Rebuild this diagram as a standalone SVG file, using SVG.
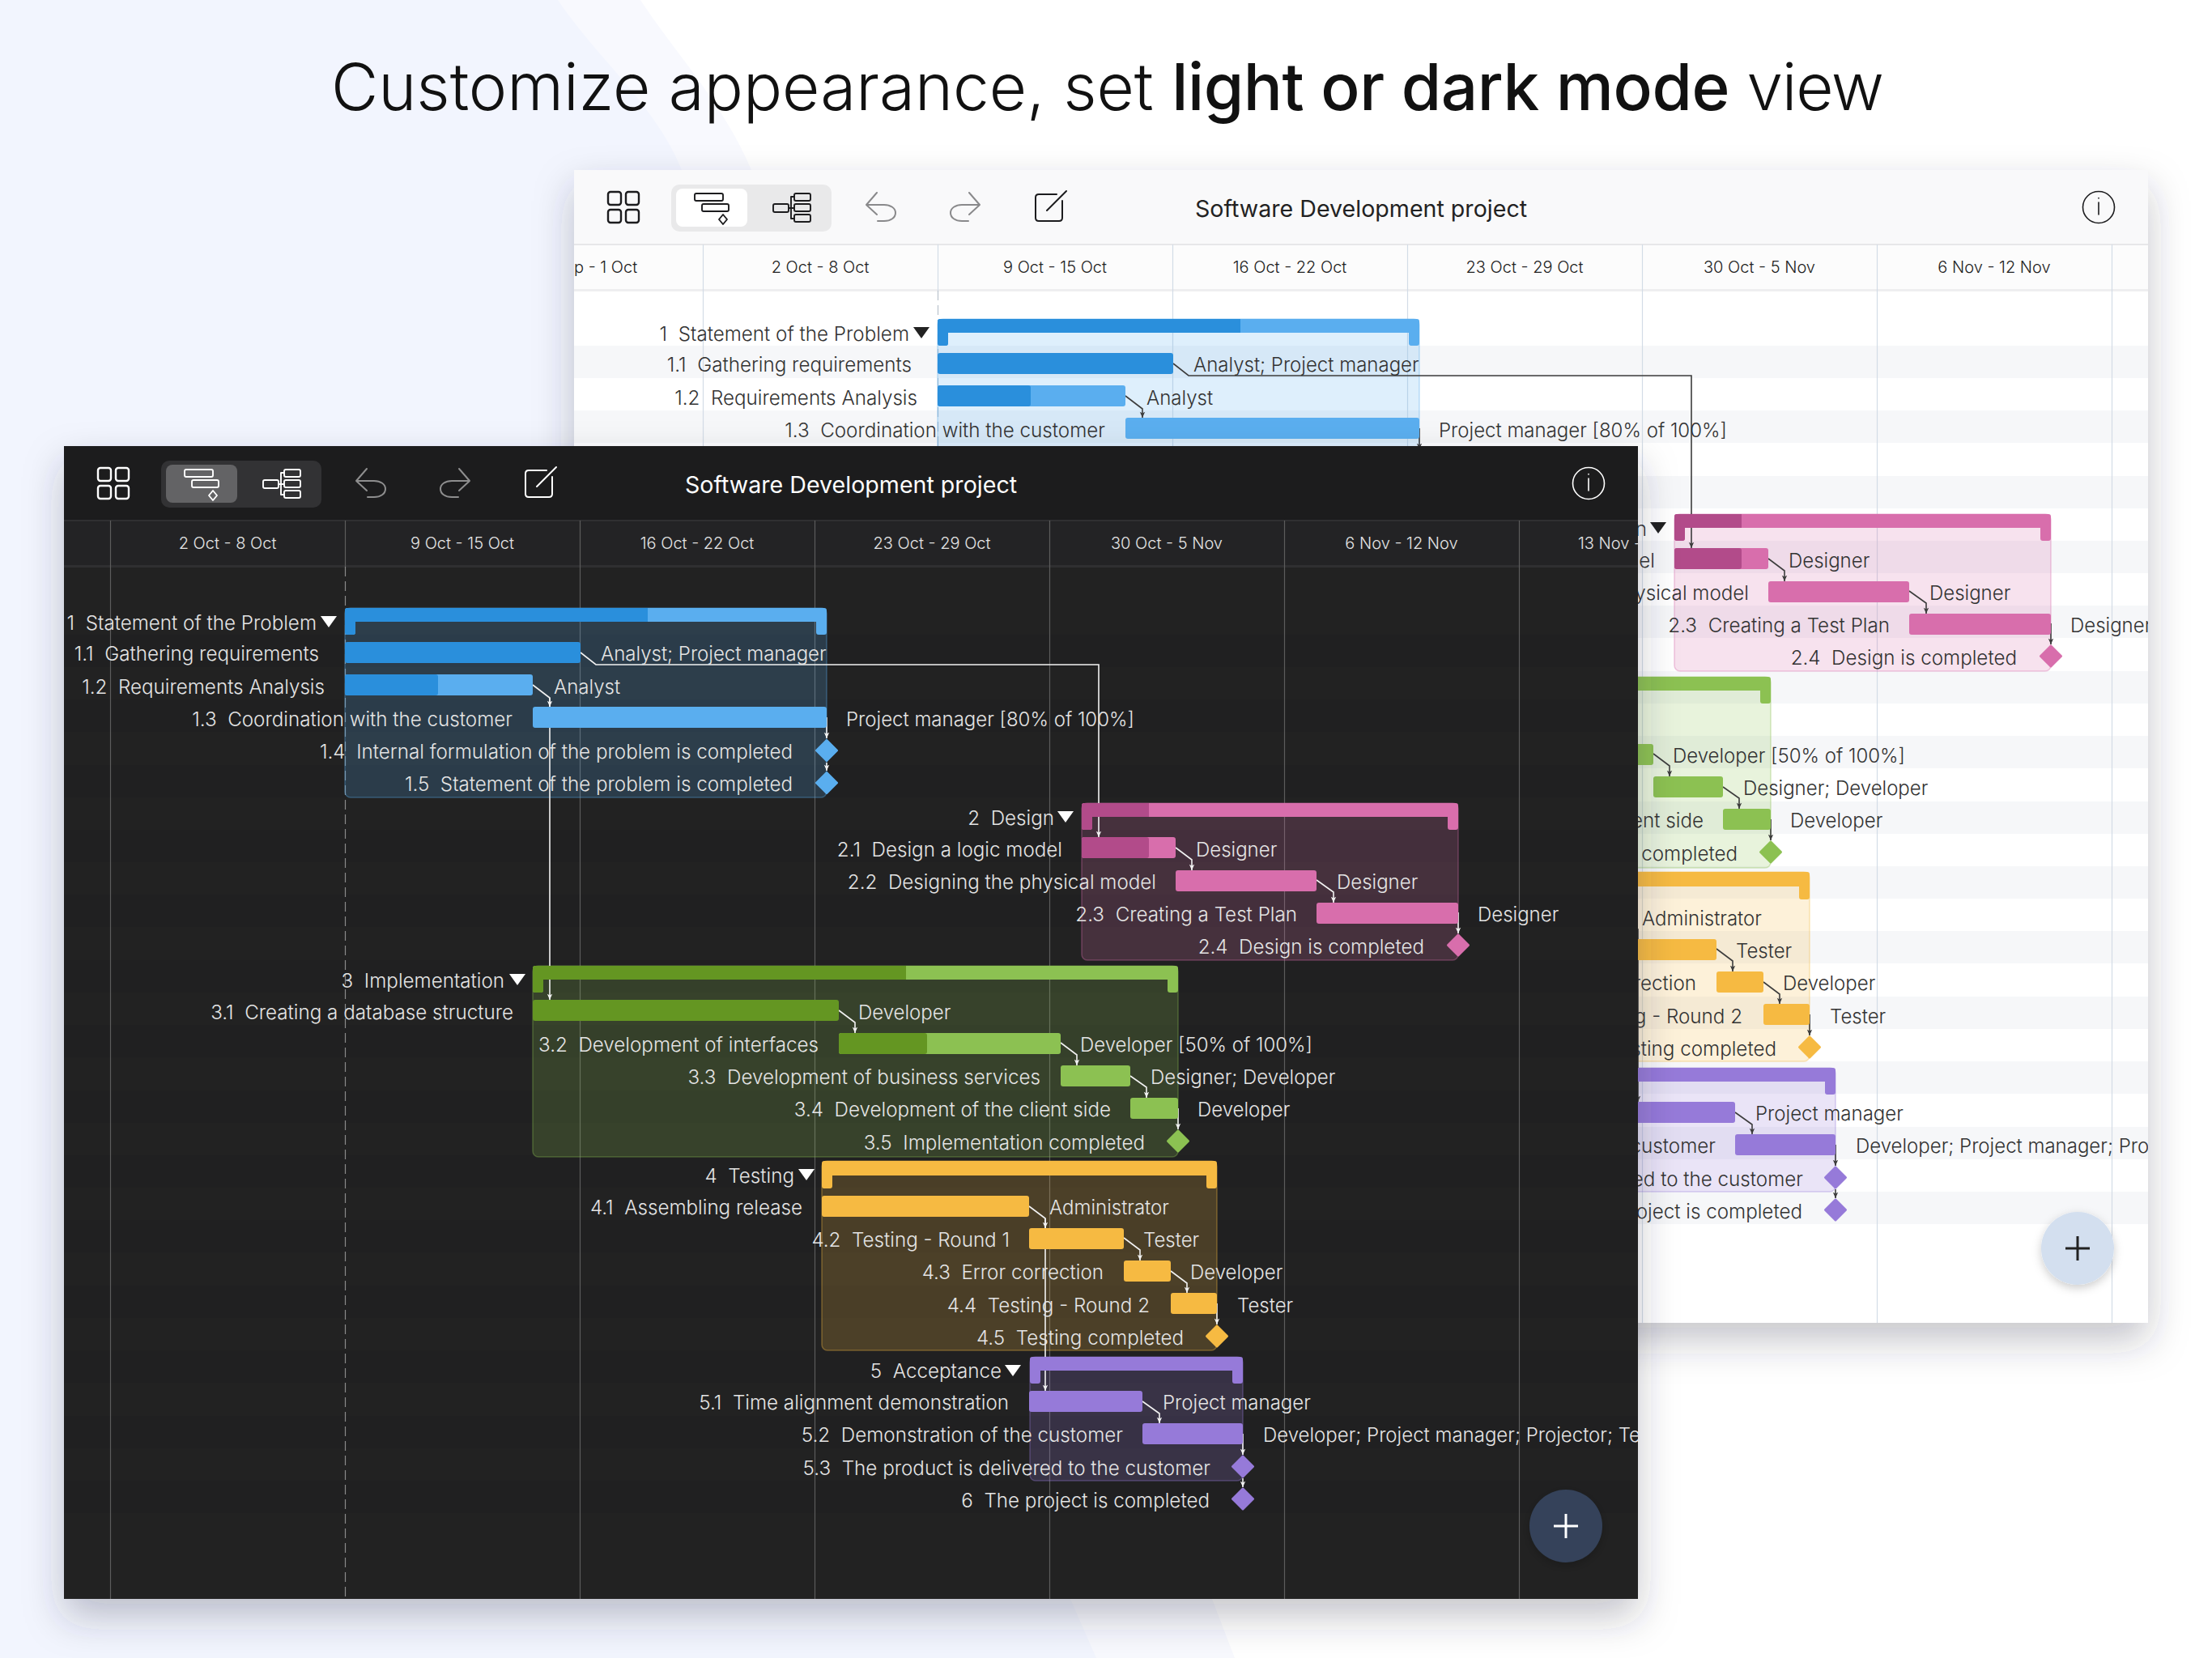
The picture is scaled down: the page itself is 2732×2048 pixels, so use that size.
<svg xmlns="http://www.w3.org/2000/svg" width="2732" height="2048" viewBox="0 0 2732 2048">
<style>
text{font-family:Inter,"Liberation Sans",sans-serif;font-weight:300;white-space:pre}
.title{font-size:80px;fill:#111}
.title .b{font-weight:450;letter-spacing:-.4px}
.title .v{letter-spacing:-1.2px}
.app{font-size:28.6px;font-weight:400}
.wk{font-size:20px;text-anchor:middle}
.r{font-size:24.2px;text-anchor:end}
.l{font-size:24px}
.lt text{fill:#333}
.lt .app,.lt .wk{fill:#222}
.dk text{fill:#e4e4e4}
.dk .app{fill:#fff}
.c{fill:none;stroke-width:1.6}
.lt .c{stroke:#3c3c3c}
.dk .c{stroke:#f2f2f2}
.lt .a{marker-end:url(#al)}
.dk .a{marker-end:url(#ad)}
.lt .g{stroke:#d3dce6;stroke-width:1.2}
.dk .g{stroke:#5c5c5c;stroke-width:1.2}
.today{stroke-dasharray:12 6;stroke-width:1.4}
.lt .today{stroke:#b9c2cc}
.dk .today{stroke:#8a8a8a}
.ic{fill:none;stroke:currentColor;stroke-width:2.4;stroke-linejoin:round;stroke-linecap:round}
.ic2{stroke-width:1.9}
.sh{stroke-width:1.5;fill-opacity:.2;stroke-opacity:.35}
.bB{fill:#5aaeef}.dB{fill:#2a8fdc}.sB{fill:#5aaeef;stroke:#5aaeef}
.bP{fill:#d86eac}.dP{fill:#b24b8a}.sP{fill:#d86eac;stroke:#d86eac}
.bG{fill:#8cc152}.dG{fill:#649622}.sG{fill:#8cc152;stroke:#8cc152}
.bO{fill:#f6ba42}.sO{fill:#f6ba42;stroke:#f6ba42}
.bV{fill:#967ad9}.sV{fill:#967ad9;stroke:#967ad9}
</style>
<defs>
<filter id="shadow" x="-8%" y="-8%" width="116%" height="116%"><feDropShadow dx="0" dy="22" stdDeviation="24" flood-color="#2a3040" flood-opacity=".28"/></filter>
<filter id="fab" x="-40%" y="-40%" width="180%" height="180%"><feDropShadow dx="0" dy="4" stdDeviation="6" flood-color="#000" flood-opacity=".2"/></filter>
<clipPath id="clipL"><rect x="709" y="210" width="1944" height="1424"/></clipPath>
<clipPath id="clipD"><rect x="79" y="551" width="1944" height="1424"/></clipPath>
<marker id="al" viewBox="0 0 10 10" refX="9" refY="5" markerWidth="9" markerHeight="9" markerUnits="userSpaceOnUse" orient="auto"><path d="M1 1.5 9 5 1 8.5 3 5Z" fill="#3c3c3c"/></marker>
<marker id="ad" viewBox="0 0 10 10" refX="9" refY="5" markerWidth="9" markerHeight="9" markerUnits="userSpaceOnUse" orient="auto"><path d="M1 1.5 9 5 1 8.5 3 5Z" fill="#f2f2f2"/></marker>
<g id="icons">
<g class="ic"><rect x="751" y="237" width="16" height="16" rx="3"/><rect x="773" y="237" width="16" height="16" rx="3"/><rect x="751" y="259" width="16" height="16" rx="3"/><rect x="773" y="259" width="16" height="16" rx="3"/></g>
<g class="ic ic2"><rect x="858" y="239" width="35" height="9" rx="2"/><rect x="867" y="252" width="33" height="9" rx="2"/><path d="M893 265 898 271 893 277 888 271Z"/><rect x="955" y="252" width="19" height="10" rx="2"/><rect x="981" y="239" width="20" height="9" rx="2"/><rect x="981" y="252" width="20" height="9" rx="2"/><rect x="981" y="265" width="20" height="9" rx="2"/><path d="M974 257H981M977 243V270M977 243H981M977 270H981"/></g>
<g class="ic" opacity=".5" style="stroke-width:2"><path d="M1083 238 1070 253 1083 265M1070 253H1092C1100 253 1106 257 1106 263 1106 269 1100 273 1092 273H1084"/><path d="M1197 238 1210 253 1197 265M1210 253H1188C1180 253 1174 257 1174 263 1174 269 1180 273 1188 273H1196"/></g>
<g class="ic" style="stroke-width:2"><path d="M1305 240H1283Q1279 240 1279 244V269Q1279 273 1283 273H1308Q1312 273 1312 269V248M1317 236 1293 260"/></g>
<g class="ic" style="stroke-width:1.6"><circle cx="2592" cy="256" r="19.5"/><path d="M2592 250V265M2592 244.500V245"/></g>
</g>
</defs>

<rect width="2732" height="2048" fill="#fff"/>
<path d="M0 0H791C830 60 895 130 928 210L1497 1975 1525 2048H0Z" fill="#f8f9fe"/>
<path d="M0 0H689C740 75 810 130 842 210L1322 1975 1354 2048H0Z" fill="#f2f5fe"/>

<text class="title" x="409" y="136">Customize appearance, set <tspan class="b">light or dark mode</tspan><tspan class="v"> view</tspan></text>

<g id="light-window" class="lt">
<rect x="709" y="210" width="1944" height="1424" fill="#fff" filter="url(#shadow)"/>
<g clip-path="url(#clipL)">
<rect x="709" y="210" width="1944" height="92" fill="#f9f9fa"/>
<rect x="709" y="302" width="1944" height="57" fill="#fcfcfc"/>
<rect x="709" y="301" width="1944" height="2" fill="#e7e7e9"/>
<rect x="709" y="357" width="1944" height="3" fill="#eeeef0"/>
<g id="light-stripes" fill="#f6f7f9">
<rect x="709" y="427" width="1944" height="40"/><rect x="709" y="507" width="1944" height="40"/><rect x="709" y="588" width="1944" height="40"/><rect x="709" y="668" width="1944" height="40"/><rect x="709" y="748" width="1944" height="40"/><rect x="709" y="829" width="1944" height="40"/><rect x="709" y="909" width="1944" height="40"/><rect x="709" y="990" width="1944" height="40"/><rect x="709" y="1070" width="1944" height="40"/><rect x="709" y="1150" width="1944" height="40"/><rect x="709" y="1231" width="1944" height="40"/><rect x="709" y="1311" width="1944" height="40"/><rect x="709" y="1392" width="1944" height="40"/><rect x="709" y="1472" width="1944" height="40"/>
</g>
<g id="light-grid">
<path class="g" d="M868.500 302V1634M1448.500 302V1634M1738.500 302V1634M2028.500 302V1634M2318.500 302V1634M2608.500 302V1634M1158.500 302V359"/>
<path class="g today" d="M1158.500 359V1634"/>
</g>
<g id="light-header">
<text class="wk" x="709" y="337" style="text-anchor:start">p - 1 Oct</text>
<text class="wk" x="1013" y="337">2 Oct - 8 Oct</text>
<text class="wk" x="1303" y="337">9 Oct - 15 Oct</text>
<text class="wk" x="1593" y="337">16 Oct - 22 Oct</text>
<text class="wk" x="1883" y="337">23 Oct - 29 Oct</text>
<text class="wk" x="2173" y="337">30 Oct - 5 Nov</text>
<text class="wk" x="2463" y="337">6 Nov - 12 Nov</text>
</g>
<g id="light-toolbar">
<rect x="829" y="228" width="198" height="58" rx="10" fill="#e9e9ea"/>
<rect x="835" y="233" width="88" height="47" rx="8" fill="#fff"/>
<use href="#icons" style="color:#1c1c1e"/>
<text class="app" x="1476" y="268">Software Development project</text>
</g>
<g transform="translate(732,-357)">
<g id="light-summaries">
<rect class="sh sB" x="426" y="751" width="595" height="234" rx="7"/>
<rect class="sh sP" x="1336" y="992" width="465" height="194" rx="7"/>
<rect class="sh sG" x="658" y="1193" width="797" height="236" rx="7"/>
<rect class="sh sO" x="1015" y="1434" width="488" height="234" rx="7"/>
<rect class="sh sV" x="1272" y="1676" width="263" height="153" rx="7"/>
</g>
<g id="light-connectors">
<path class="c a" d="M717 806 736 821H1357V1034"/>
<path class="c a" d="M658 846 679 862V873"/>
<path class="c a" d="M1021 886V912"/>
<path class="c a" d="M1452 1047 1472 1062V1075"/>
<path class="c a" d="M1626 1087 1647 1102V1115"/>
<path class="c a" d="M1801 1127V1153"/>
<path class="c a" d="M1310 1288 1330 1303V1316"/>
<path class="c a" d="M1396 1329 1416 1343V1356"/>
<path class="c a" d="M1455 1369V1395"/>
<path class="c a" d="M1271 1490 1291 1505V1718"/>
<path class="c a" d="M1388 1529 1408 1544V1557"/>
<path class="c a" d="M1446 1570 1466 1585V1597"/>
<path class="c a" d="M1503 1610V1636"/>
<path class="c a" d="M1411 1731 1432 1746V1758"/>
<path class="c a" d="M1535 1771V1797"/>
<path class="c a" d="M1535 1826V1837"/>
</g>
<g id="light-n1"><path class="bB" d="M429 751H1018Q1021 751 1021 754V781Q1021 784 1018 784H1011Q1008 784 1008 781V768H439V781Q439 784 436 784H429Q426 784 426 781V754Q426 751 429 751Z"/><path class="dB" d="M429 751H800V768H439V781Q439 784 436 784H429Q426 784 426 781V754Q426 751 429 751Z"/><path d="M396 761H416L406 775Z" fill="#222"/><text class="r" x="391" y="777.500">1  Statement of the Problem</text></g>
<g id="light-n1-1"><rect class="dB" x="426" y="793" width="291" height="26" rx="3"/><text class="r" x="394" y="816">1.1  Gathering requirements</text><text class="l" x="742" y="816">Analyst; Project manager</text></g>
<g id="light-n1-2"><rect class="bB" x="426" y="833" width="232" height="26" rx="3"/><rect class="dB" x="426" y="833" width="115" height="26" rx="3"/><text class="r" x="401" y="857">1.2  Requirements Analysis</text><text class="l" x="684" y="857">Analyst</text></g>
<g id="light-n1-3"><rect class="bB" x="658" y="873" width="363" height="26" rx="3"/><text class="r" x="633" y="897">1.3  Coordination with the customer</text><text class="l" x="1045" y="897">Project manager [80% of 100%]</text></g>
<g id="light-n2"><path class="bP" d="M1339 992H1798Q1801 992 1801 995V1022Q1801 1025 1798 1025H1791Q1788 1025 1788 1022V1009H1349V1022Q1349 1025 1346 1025H1339Q1336 1025 1336 1022V995Q1336 992 1339 992Z"/><path class="dP" d="M1339 992H1419V1009H1349V1022Q1349 1025 1346 1025H1339Q1336 1025 1336 1022V995Q1336 992 1339 992Z"/><path d="M1306 1002H1326L1316 1016Z" fill="#222"/><text class="r" x="1302" y="1018.500">2  Design</text></g>
<g id="light-n2-1"><rect class="bP" x="1336" y="1034" width="116" height="26" rx="3"/><rect class="dP" x="1336" y="1034" width="83" height="26" rx="3"/><text class="r" x="1312" y="1058">2.1  Design a logic model</text><text class="l" x="1477" y="1058">Designer</text></g>
<g id="light-n2-2"><rect class="bP" x="1452" y="1075" width="174" height="26" rx="3"/><text class="r" x="1428" y="1098">2.2  Designing the physical model</text><text class="l" x="1651" y="1098">Designer</text></g>
<g id="light-n2-3"><rect class="bP" x="1626" y="1115" width="175" height="26" rx="3"/><text class="r" x="1602" y="1138">2.3  Creating a Test Plan</text><text class="l" x="1825" y="1138">Designer</text></g>
<g id="light-n2-4"><path class="sP" stroke-width="3" stroke-linejoin="round" d="M1801 1155 1813.500 1167.500 1801 1180 1788.500 1167.500Z"/><text class="r" x="1759" y="1178">2.4  Design is completed</text></g>
<g id="light-n3"><path class="bG" d="M661 1193H1452Q1455 1193 1455 1196V1223Q1455 1226 1452 1226H1445Q1442 1226 1442 1223V1210H671V1223Q671 1226 668 1226H661Q658 1226 658 1223V1196Q658 1193 661 1193Z"/></g>
<g id="light-n3-2"><rect class="bG" x="1036" y="1276" width="274" height="26" rx="3"/><text class="l" x="1334" y="1299">Developer [50% of 100%]</text></g>
<g id="light-n3-3"><rect class="bG" x="1310" y="1316" width="86" height="26" rx="3"/><text class="l" x="1421" y="1339">Designer; Developer</text></g>
<g id="light-n3-4"><rect class="bG" x="1396" y="1356" width="59" height="26" rx="3"/><text class="r" x="1372" y="1379">3.4  Development of the client side</text><text class="l" x="1479" y="1379">Developer</text></g>
<g id="light-n3-5"><path class="sG" stroke-width="3" stroke-linejoin="round" d="M1455 1397 1467.500 1409.500 1455 1422 1442.500 1409.500Z"/><text class="r" x="1414" y="1420">3.5  Implementation completed</text></g>
<g id="light-n4"><path class="bO" d="M1018 1434H1500Q1503 1434 1503 1437V1465Q1503 1468 1500 1468H1493Q1490 1468 1490 1465V1452H1028V1465Q1028 1468 1025 1468H1018Q1015 1468 1015 1465V1437Q1015 1434 1018 1434Z"/></g>
<g id="light-n4-1"><text class="l" x="1296" y="1500">Administrator</text></g>
<g id="light-n4-2"><rect class="bO" x="1271" y="1517" width="117" height="26" rx="3"/><text class="l" x="1412" y="1540">Tester</text></g>
<g id="light-n4-3"><rect class="bO" x="1388" y="1557" width="58" height="26" rx="3"/><text class="r" x="1363" y="1580">4.3  Error correction</text><text class="l" x="1470" y="1580">Developer</text></g>
<g id="light-n4-4"><rect class="bO" x="1446" y="1597" width="57" height="26" rx="3"/><text class="r" x="1420" y="1621">4.4  Testing - Round 2</text><text class="l" x="1528" y="1621">Tester</text></g>
<g id="light-n4-5"><path class="sO" stroke-width="3" stroke-linejoin="round" d="M1503 1638 1515.500 1650.500 1503 1663 1490.500 1650.500Z"/><text class="r" x="1462" y="1661">4.5  Testing completed</text></g>
<g id="light-n5"><path class="bV" d="M1275 1676H1532Q1535 1676 1535 1679V1706Q1535 1709 1532 1709H1525Q1522 1709 1522 1706V1693H1285V1706Q1285 1709 1282 1709H1275Q1272 1709 1272 1706V1679Q1272 1676 1275 1676Z"/></g>
<g id="light-n5-1"><rect class="bV" x="1271" y="1718" width="140" height="26" rx="3"/><text class="l" x="1436" y="1741">Project manager</text></g>
<g id="light-n5-2"><rect class="bV" x="1411" y="1758" width="124" height="26" rx="3"/><text class="r" x="1387" y="1781">5.2  Demonstration of the customer</text><text class="l" x="1560" y="1781">Developer; Project manager; Pro</text></g>
<g id="light-n5-3"><path class="sV" stroke-width="3" stroke-linejoin="round" d="M1535 1799 1547.500 1811.500 1535 1824 1522.500 1811.500Z"/><text class="r" x="1495" y="1822">5.3  The product is delivered to the customer</text></g>
<g id="light-n6"><path class="sV" stroke-width="3" stroke-linejoin="round" d="M1535 1839 1547.500 1851.500 1535 1864 1522.500 1851.500Z"/><text class="r" x="1494" y="1862">6  The project is completed</text></g>
</g>
<g id="light-add"><circle cx="2566" cy="1542" r="45" fill="#d3dfef" filter="url(#fab)"/><path d="M2551 1542H2581M2566 1527V1557" stroke="#222" stroke-width="3" fill="none"/></g>
</g>
</g>

<g id="dark-window" class="dk">
<rect x="79" y="551" width="1944" height="1424" fill="#222223" filter="url(#shadow)"/>
<g clip-path="url(#clipD)">
<rect x="79" y="551" width="1944" height="92" fill="#1c1c1d"/>
<rect x="79" y="643" width="1944" height="57" fill="#232325"/>
<rect x="79" y="642" width="1944" height="2" fill="#2f2f31"/>
<rect x="79" y="698" width="1944" height="3" fill="#2f2f31"/>
<g id="dark-stripes" fill="#202021">
<rect x="79" y="784" width="1944" height="40"/><rect x="79" y="864" width="1944" height="40"/><rect x="79" y="945" width="1944" height="40"/><rect x="79" y="1025" width="1944" height="40"/><rect x="79" y="1105" width="1944" height="40"/><rect x="79" y="1186" width="1944" height="40"/><rect x="79" y="1266" width="1944" height="40"/><rect x="79" y="1347" width="1944" height="40"/><rect x="79" y="1427" width="1944" height="40"/><rect x="79" y="1507" width="1944" height="40"/><rect x="79" y="1588" width="1944" height="40"/><rect x="79" y="1668" width="1944" height="40"/><rect x="79" y="1749" width="1944" height="40"/><rect x="79" y="1829" width="1944" height="40"/>
</g>
<g id="dark-grid">
<path class="g" d="M136.500 643V1975M716.500 643V1975M1006.500 643V1975M1296.500 643V1975M1586.500 643V1975M1876.500 643V1975M426.500 643V700"/>
<path class="g today" d="M426.500 700V1975"/>
</g>
<g id="dark-header">
<text class="wk" x="281" y="678">2 Oct - 8 Oct</text>
<text class="wk" x="571" y="678">9 Oct - 15 Oct</text>
<text class="wk" x="861" y="678">16 Oct - 22 Oct</text>
<text class="wk" x="1151" y="678">23 Oct - 29 Oct</text>
<text class="wk" x="1441" y="678">30 Oct - 5 Nov</text>
<text class="wk" x="1731" y="678">6 Nov - 12 Nov</text>
<text class="wk" x="1949" y="678" style="text-anchor:start">13 Nov -</text>
</g>
<g id="dark-toolbar">
<rect x="199" y="569" width="198" height="58" rx="10" fill="#323234"/>
<rect x="205" y="574" width="88" height="47" rx="8" fill="#636365"/>
<use href="#icons" x="-630" y="341" style="color:#fff"/>
<text class="app" x="846" y="609">Software Development project</text>
</g>
<g id="dark-summaries">
<rect class="sh sB" x="426" y="751" width="595" height="234" rx="7"/>
<rect class="sh sP" x="1336" y="992" width="465" height="194" rx="7"/>
<rect class="sh sG" x="658" y="1193" width="797" height="236" rx="7"/>
<rect class="sh sO" x="1015" y="1434" width="488" height="234" rx="7"/>
<rect class="sh sV" x="1272" y="1676" width="263" height="153" rx="7"/>
</g>
<g id="dark-connectors">
<path class="c a" d="M717 806 736 821H1357V1034"/>
<path class="c a" d="M658 846 679 862V873"/>
<path class="c a" d="M679 862V1235"/>
<path class="c a" d="M1021 886V912"/>
<path class="c a" d="M1021 942V952"/>
<path class="c a" d="M1452 1047 1472 1062V1075"/>
<path class="c a" d="M1626 1087 1647 1102V1115"/>
<path class="c a" d="M1801 1127V1153"/>
<path class="c a" d="M1036 1248 1056 1263V1276"/>
<path class="c a" d="M1310 1288 1330 1303V1316"/>
<path class="c a" d="M1396 1329 1416 1343V1356"/>
<path class="c a" d="M1455 1369V1395"/>
<path class="c a" d="M1271 1490 1291 1505V1718"/>
<path class="c a" d="M1291 1505V1517"/>
<path class="c a" d="M1388 1529 1408 1544V1557"/>
<path class="c a" d="M1446 1570 1466 1585V1597"/>
<path class="c a" d="M1503 1610V1636"/>
<path class="c a" d="M1411 1731 1432 1746V1758"/>
<path class="c a" d="M1535 1771V1797"/>
<path class="c a" d="M1535 1826V1837"/>
</g>
<g id="dark-n1"><path class="bB" d="M429 751H1018Q1021 751 1021 754V781Q1021 784 1018 784H1011Q1008 784 1008 781V768H439V781Q439 784 436 784H429Q426 784 426 781V754Q426 751 429 751Z"/><path class="dB" d="M429 751H800V768H439V781Q439 784 436 784H429Q426 784 426 781V754Q426 751 429 751Z"/><path d="M396 761H416L406 775Z" fill="#fff"/><text class="r" x="391" y="777.500">1  Statement of the Problem</text></g>
<g id="dark-n1-1"><rect class="dB" x="426" y="793" width="291" height="26" rx="3"/><text class="r" x="394" y="816">1.1  Gathering requirements</text><text class="l" x="742" y="816">Analyst; Project manager</text></g>
<g id="dark-n1-2"><rect class="bB" x="426" y="833" width="232" height="26" rx="3"/><rect class="dB" x="426" y="833" width="115" height="26" rx="3"/><text class="r" x="401" y="857">1.2  Requirements Analysis</text><text class="l" x="684" y="857">Analyst</text></g>
<g id="dark-n1-3"><rect class="bB" x="658" y="873" width="363" height="26" rx="3"/><text class="r" x="633" y="897">1.3  Coordination with the customer</text><text class="l" x="1045" y="897">Project manager [80% of 100%]</text></g>
<g id="dark-n1-4"><path class="sB" stroke-width="3" stroke-linejoin="round" d="M1021 914.500 1033.500 927 1021 939.500 1008.500 927Z"/><text class="r" x="979" y="937">1.4  Internal formulation of the problem is completed</text></g>
<g id="dark-n1-5"><path class="sB" stroke-width="3" stroke-linejoin="round" d="M1021 954.500 1033.500 967 1021 979.500 1008.500 967Z"/><text class="r" x="979" y="977">1.5  Statement of the problem is completed</text></g>
<g id="dark-n2"><path class="bP" d="M1339 992H1798Q1801 992 1801 995V1022Q1801 1025 1798 1025H1791Q1788 1025 1788 1022V1009H1349V1022Q1349 1025 1346 1025H1339Q1336 1025 1336 1022V995Q1336 992 1339 992Z"/><path class="dP" d="M1339 992H1419V1009H1349V1022Q1349 1025 1346 1025H1339Q1336 1025 1336 1022V995Q1336 992 1339 992Z"/><path d="M1306 1002H1326L1316 1016Z" fill="#fff"/><text class="r" x="1302" y="1018.500">2  Design</text></g>
<g id="dark-n2-1"><rect class="bP" x="1336" y="1034" width="116" height="26" rx="3"/><rect class="dP" x="1336" y="1034" width="83" height="26" rx="3"/><text class="r" x="1312" y="1058">2.1  Design a logic model</text><text class="l" x="1477" y="1058">Designer</text></g>
<g id="dark-n2-2"><rect class="bP" x="1452" y="1075" width="174" height="26" rx="3"/><text class="r" x="1428" y="1098">2.2  Designing the physical model</text><text class="l" x="1651" y="1098">Designer</text></g>
<g id="dark-n2-3"><rect class="bP" x="1626" y="1115" width="175" height="26" rx="3"/><text class="r" x="1602" y="1138">2.3  Creating a Test Plan</text><text class="l" x="1825" y="1138">Designer</text></g>
<g id="dark-n2-4"><path class="sP" stroke-width="3" stroke-linejoin="round" d="M1801 1155 1813.500 1167.500 1801 1180 1788.500 1167.500Z"/><text class="r" x="1759" y="1178">2.4  Design is completed</text></g>
<g id="dark-n3"><path class="bG" d="M661 1193H1452Q1455 1193 1455 1196V1223Q1455 1226 1452 1226H1445Q1442 1226 1442 1223V1210H671V1223Q671 1226 668 1226H661Q658 1226 658 1223V1196Q658 1193 661 1193Z"/><path class="dG" d="M661 1193H1119V1210H671V1223Q671 1226 668 1226H661Q658 1226 658 1223V1196Q658 1193 661 1193Z"/><path d="M629 1203H649L639 1217Z" fill="#fff"/><text class="r" x="623" y="1219.500">3  Implementation</text></g>
<g id="dark-n3-1"><rect class="dG" x="658" y="1235" width="378" height="26" rx="3"/><text class="r" x="634" y="1259">3.1  Creating a database structure</text><text class="l" x="1060" y="1259">Developer</text></g>
<g id="dark-n3-2"><rect class="bG" x="1036" y="1276" width="274" height="26" rx="3"/><rect class="dG" x="1036" y="1276" width="109" height="26" rx="3"/><text class="r" x="1011" y="1299">3.2  Development of interfaces</text><text class="l" x="1334" y="1299">Developer [50% of 100%]</text></g>
<g id="dark-n3-3"><rect class="bG" x="1310" y="1316" width="86" height="26" rx="3"/><text class="r" x="1285" y="1339">3.3  Development of business services</text><text class="l" x="1421" y="1339">Designer; Developer</text></g>
<g id="dark-n3-4"><rect class="bG" x="1396" y="1356" width="59" height="26" rx="3"/><text class="r" x="1372" y="1379">3.4  Development of the client side</text><text class="l" x="1479" y="1379">Developer</text></g>
<g id="dark-n3-5"><path class="sG" stroke-width="3" stroke-linejoin="round" d="M1455 1397 1467.500 1409.500 1455 1422 1442.500 1409.500Z"/><text class="r" x="1414" y="1420">3.5  Implementation completed</text></g>
<g id="dark-n4"><path class="bO" d="M1018 1434H1500Q1503 1434 1503 1437V1465Q1503 1468 1500 1468H1493Q1490 1468 1490 1465V1452H1028V1465Q1028 1468 1025 1468H1018Q1015 1468 1015 1465V1437Q1015 1434 1018 1434Z"/><path d="M986 1444H1006L996 1458Z" fill="#fff"/><text class="r" x="981" y="1460.500">4  Testing</text></g>
<g id="dark-n4-1"><rect class="bO" x="1015" y="1477" width="256" height="26" rx="3"/><text class="r" x="991" y="1500">4.1  Assembling release</text><text class="l" x="1296" y="1500">Administrator</text></g>
<g id="dark-n4-2"><rect class="bO" x="1271" y="1517" width="117" height="26" rx="3"/><text class="r" x="1247" y="1540">4.2  Testing - Round 1</text><text class="l" x="1412" y="1540">Tester</text></g>
<g id="dark-n4-3"><rect class="bO" x="1388" y="1557" width="58" height="26" rx="3"/><text class="r" x="1363" y="1580">4.3  Error correction</text><text class="l" x="1470" y="1580">Developer</text></g>
<g id="dark-n4-4"><rect class="bO" x="1446" y="1597" width="57" height="26" rx="3"/><text class="r" x="1420" y="1621">4.4  Testing - Round 2</text><text class="l" x="1528" y="1621">Tester</text></g>
<g id="dark-n4-5"><path class="sO" stroke-width="3" stroke-linejoin="round" d="M1503 1638 1515.500 1650.500 1503 1663 1490.500 1650.500Z"/><text class="r" x="1462" y="1661">4.5  Testing completed</text></g>
<g id="dark-n5"><path class="bV" d="M1275 1676H1532Q1535 1676 1535 1679V1706Q1535 1709 1532 1709H1525Q1522 1709 1522 1706V1693H1285V1706Q1285 1709 1282 1709H1275Q1272 1709 1272 1706V1679Q1272 1676 1275 1676Z"/><path d="M1241 1686H1261L1251 1700Z" fill="#fff"/><text class="r" x="1237" y="1701.500">5  Acceptance</text></g>
<g id="dark-n5-1"><rect class="bV" x="1271" y="1718" width="140" height="26" rx="3"/><text class="r" x="1246" y="1741">5.1  Time alignment demonstration</text><text class="l" x="1436" y="1741">Project manager</text></g>
<g id="dark-n5-2"><rect class="bV" x="1411" y="1758" width="124" height="26" rx="3"/><text class="r" x="1387" y="1781">5.2  Demonstration of the customer</text><text class="l" x="1560" y="1781">Developer; Project manager; Projector; Te</text></g>
<g id="dark-n5-3"><path class="sV" stroke-width="3" stroke-linejoin="round" d="M1535 1799 1547.500 1811.500 1535 1824 1522.500 1811.500Z"/><text class="r" x="1495" y="1822">5.3  The product is delivered to the customer</text></g>
<g id="dark-n6"><path class="sV" stroke-width="3" stroke-linejoin="round" d="M1535 1839 1547.500 1851.500 1535 1864 1522.500 1851.500Z"/><text class="r" x="1494" y="1862">6  The project is completed</text></g>
<g id="dark-add"><circle cx="1934" cy="1885" r="45" fill="#34425a" filter="url(#fab)"/><path d="M1919 1885H1949M1934 1870V1900" stroke="#fff" stroke-width="3" fill="none"/></g>
</g>
</g>
</svg>
